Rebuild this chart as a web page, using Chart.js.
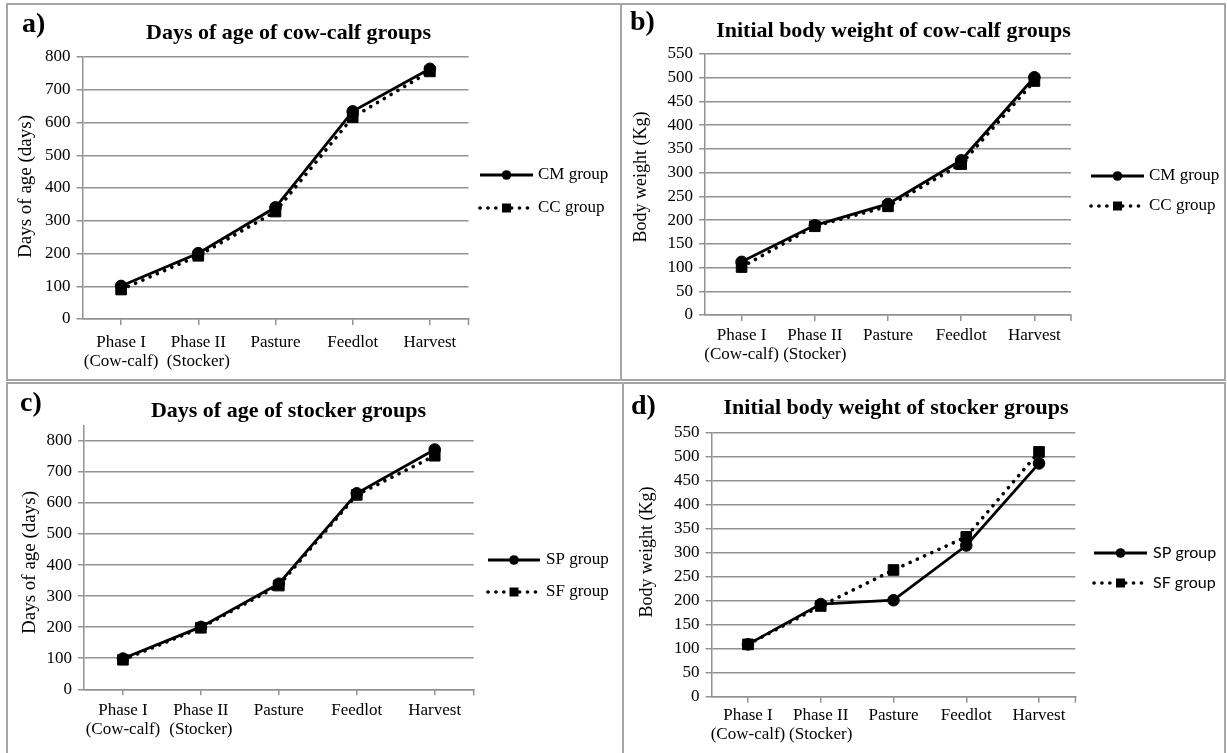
<!DOCTYPE html>
<html>
<head>
<meta charset="utf-8">
<script src="https://cdn.jsdelivr.net/npm/chart.js@4.4.0/dist/chart.umd.min.js"></script>
<style>
  html, body { margin: 0; padding: 0; background: #fff; }
  body { width: 1227px; height: 753px; position: relative; overflow: hidden; }
  .box { position: absolute; box-sizing: border-box; border: 2px solid #a5a5a5; }
  canvas { position: absolute; }
</style>
</head>
<body>
<div class="box" style="left:6px;top:3px;width:616px;height:378px"></div>
<div class="box" style="left:620px;top:3px;width:606px;height:378px"></div>
<div class="box" style="left:6px;top:382px;width:618px;height:374px"></div>
<div class="box" style="left:622px;top:382px;width:604px;height:374px"></div>
<canvas id="chartA"></canvas>
<canvas id="chartB"></canvas>
<canvas id="chartC"></canvas>
<canvas id="chartD"></canvas>
<script>
// categories and values
const phases = [['Phase I', '(Cow-calf)'], ['Phase II', '(Stocker)'], 'Pasture', 'Feedlot', 'Harvest'];

const ageCM = [101, 201, 341, 634, 764];
const ageCC = [90, 193, 328, 616, 756];
const weightCM = [112, 189, 234, 326, 501];
const weightCC = [101, 187, 229, 318, 493];
const ageSP = [99, 201, 340, 631, 772];
const ageSF = [95, 198, 334, 626, 752];
const weightSP = [109, 193, 201, 315, 486];
const weightSF = [109, 189, 264, 333, 510];

const ageTicks = [0, 100, 200, 300, 400, 500, 600, 700, 800];
const weightTicks = [0, 50, 100, 150, 200, 250, 300, 350, 400, 450, 500, 550];

const GRID = '#929292';
const SERIF = '"Liberation Serif", "Times New Roman", serif';

Chart.defaults.font.family = SERIF;
Chart.defaults.color = '#000';

function solid(label, data) {
    return {
        label, data,
        borderColor: '#000', borderWidth: 2.8,
        pointStyle: 'circle', pointRadius: 5.8, pointHoverRadius: 5.8,
        pointBackgroundColor: '#000', pointBorderColor: '#000', pointBorderWidth: 1,
        tension: 0, fill: false
    };
}

function dotted(label, data) {
    return {
        label, data,
        borderColor: '#000', borderWidth: 3.6,
        borderDash: [0.1, 7.8], borderCapStyle: 'round',
        pointStyle: 'rect', pointRadius: 7.5, pointHoverRadius: 7.5,
        pointBackgroundColor: '#000', pointBorderColor: '#000', pointBorderWidth: 1,
        tension: 0, fill: false
    };
}

// titles, axis title, legend and the end tick of the x axis
const panelText = {
    id: 'panelText',
    afterDraw(chart, args, opts) {
        const p = opts.panel;
        const ctx = chart.ctx;
        const a = chart.chartArea;
        ctx.save();
        ctx.fillStyle = '#000';

        ctx.textBaseline = 'alphabetic';
        ctx.textAlign = 'left';
        ctx.font = 'bold 28px ' + SERIF;
        ctx.fillText(p.letter, p.letterX, p.letterY);

        ctx.textAlign = 'center';
        ctx.font = 'bold 22px ' + SERIF;
        ctx.fillText(p.title, p.titleX, p.titleY);

        ctx.save();
        ctx.translate(p.yTitleX, p.yTitleY);
        ctx.rotate(-Math.PI / 2);
        ctx.textBaseline = 'middle';
        ctx.font = p.yTitleSize + 'px ' + SERIF;
        ctx.fillText(p.yTitle, 0, 0);
        ctx.restore();

        ctx.strokeStyle = GRID;
        ctx.lineWidth = 1.5;
        ctx.beginPath();
        ctx.moveTo(a.right, a.bottom);
        ctx.lineTo(a.right, a.bottom + 6);
        ctx.stroke();

        // legend
        const lg = p.legend;
        chart.data.datasets.forEach((ds, i) => {
            const y = lg.y[i];
            ctx.strokeStyle = '#000';
            ctx.lineWidth = ds.borderWidth;
            ctx.lineCap = ds.borderCapStyle || 'butt';
            ctx.setLineDash(ds.borderDash || []);
            ctx.beginPath();
            ctx.moveTo(lg.x1, y);
            ctx.lineTo(lg.x2, y);
            ctx.stroke();
            ctx.setLineDash([]);
            const mx = (lg.x1 + lg.x2) / 2;
            ctx.beginPath();
            if (ds.pointStyle === 'rect') ctx.rect(mx - 4.5, y - 4.5, 9, 9);
            else ctx.arc(mx, y, 4.8, 0, Math.PI * 2);
            ctx.fill();

            ctx.textAlign = 'left';
            ctx.textBaseline = 'middle';
            ctx.font = lg.font;
            ctx.fillText(ds.label, lg.textX, y);
        });
        ctx.restore();
    }
};

const panels = [
    {
        id: 'chartA', left: 7, top: 4, width: 613, height: 376,
        area: { left: 75.5, right: 461.5, top: 53, bottom: 315 },
        yMax: 800, yTicks: ageTicks, labelPad: 8,
        letter: 'a)', letterX: 15, letterY: 28,
        title: 'Days of age of cow-calf groups', titleX: 281.5, titleY: 35,
        yTitle: 'Days of age (days)', yTitleX: 19, yTitleY: 182.5, yTitleSize: 19,
        datasets: [solid('CM group', ageCM), dotted('CC group', ageCC)],
        legend: { x1: 473, x2: 526, textX: 531, y: [171, 204], font: '17px ' + SERIF }
    },
    {
        id: 'chartB', left: 620, top: 4, width: 605, height: 376,
        area: { left: 85, right: 451, top: 50, bottom: 311 },
        yMax: 550, yTicks: weightTicks, labelPad: 5,
        letter: 'b)', letterX: 10, letterY: 26,
        title: 'Initial body weight of cow-calf groups', titleX: 273.5, titleY: 33,
        yTitle: 'Body weight (Kg)', yTitleX: 21.5, yTitleY: 173, yTitleSize: 18,
        datasets: [solid('CM group', weightCM), dotted('CC group', weightCC)],
        legend: { x1: 471, x2: 524, textX: 529, y: [172, 202], font: '17px ' + SERIF }
    },
    {
        id: 'chartC', left: 7, top: 382, width: 615, height: 371,
        area: { left: 77, right: 466.7, top: 43.3, bottom: 307.3 },
        yMax: 850, yTicks: ageTicks, labelPad: 6,
        letter: 'c)', letterX: 13, letterY: 29,
        title: 'Days of age of stocker groups', titleX: 281.5, titleY: 34.5,
        yTitle: 'Days of age (days)', yTitleX: 23, yTitleY: 180.5, yTitleSize: 19,
        datasets: [solid('SP group', ageSP), dotted('SF group', ageSF)],
        legend: { x1: 481, x2: 533, textX: 539, y: [178, 210], font: '17px ' + SERIF }
    },
    {
        id: 'chartD', left: 622, top: 382, width: 603, height: 371,
        area: { left: 89.6, right: 453.4, top: 50.7, bottom: 314.7 },
        yMax: 550, yTicks: weightTicks, labelPad: 3,
        letter: 'd)', letterX: 9, letterY: 32,
        title: 'Initial body weight of stocker groups', titleX: 274, titleY: 32.3,
        yTitle: 'Body weight (Kg)', yTitleX: 25.5, yTitleY: 170, yTitleSize: 18,
        datasets: [solid('SP group', weightSP), dotted('SF group', weightSF)],
        legend: { x1: 472, x2: 525, textX: 531, y: [171, 201], font: '16px Lato, "Open Sans", sans-serif' }
    }
];

panels.forEach(p => {
    const canvas = document.getElementById(p.id);
    canvas.width = p.width;
    canvas.height = p.height;
    canvas.style.left = p.left + 'px';
    canvas.style.top = p.top + 'px';

    new Chart(canvas.getContext('2d'), {
        type: 'line',
        data: { labels: phases, datasets: p.datasets },
        plugins: [panelText],
        options: {
            responsive: false,
            devicePixelRatio: 1,
            animation: false,
            layout: { padding: { left: 0, top: p.area.top, right: p.width - p.area.right, bottom: 0 } },
            plugins: {
                legend: { display: false },
                tooltip: { enabled: false },
                panelText: { panel: p }
            },
            scales: {
                x: {
                    offset: true,
                    grid: { offset: false, drawOnChartArea: false, drawTicks: true, tickLength: 6, color: GRID, lineWidth: 1.5 },
                    border: { color: GRID, width: 1.5 },
                    ticks: { autoSkip: false, maxRotation: 0, padding: p.labelPad, font: { size: 17, lineHeight: 1.12 }, color: '#000' },
                    afterFit: s => { s.height = p.height - p.area.bottom; }
                },
                y: {
                    min: 0, max: p.yMax,
                    grid: { color: GRID, lineWidth: 1.5, drawTicks: true, tickLength: 6 },
                    border: { color: GRID, width: 1.5 },
                    ticks: { padding: 6, font: { size: 17 }, color: '#000' },
                    afterBuildTicks: s => { s.ticks = p.yTicks.map(v => ({ value: v })); },
                    afterFit: s => { s.width = p.area.left; }
                }
            }
        }
    });
});
</script>
</body>
</html>
